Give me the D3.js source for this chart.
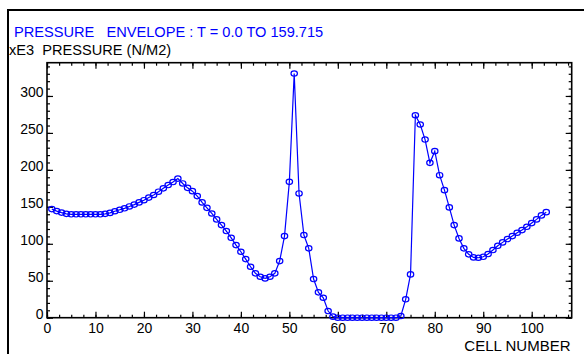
<!DOCTYPE html>
<html>
<head>
<meta charset="utf-8">
<script src="https://cdn.jsdelivr.net/npm/d3@7"></script>
<style>
  body { margin: 0; background: #fff; }
  text { font-family: "Liberation Sans", Arial, sans-serif; }
</style>
</head>
<body>
<svg id="chart" width="584" height="354"></svg>
<script>
// cell numbers along the pipe
var cells = [1,2,3,4,5,6,7,8,9,10,11,12,13,14,15,16,17,18,19,20,
  21,22,23,24,25,26,27,28,29,30,31,32,33,34,35,36,37,38,39,40,
  41,42,43,44,45,46,47,48,49,50,51,52,53,54,55,56,57,58,59,60,
  61,62,63,64,65,66,67,68,69,70,71,72,73,74,75,76,77,78,79,80,
  81,82,83,84,85,86,87,88,89,90,91,92,93,94,95,96,97,98,99,100,
  101,102,103];

// pressure envelope, xE3 N/M2
var pressure = [146.9,144.2,142.2,140.5,139.9,139.9,139.9,139.9,139.9,139.9,
  139.9,140.5,141.8,144,146,148,150.5,153,156,159,
  162.5,166,170.5,175,179.5,183.5,188.2,181.6,175.7,171.2,
  164.5,156,148.6,141,133,125.3,117.2,108.1,98.2,89.2,
  79.3,68.9,60,55.4,53.2,55.4,60,76.6,110.4,183.8,
  330.3,168.1,111.8,93.8,52.3,34.3,27,9,1.4,0,
  0,0,0,0,0,0,0,0,0,0,
  0,0,2.3,24.9,58.6,273.9,261.4,241,209.5,225.3,
  192.8,172.6,149.2,125.3,107.3,93.8,85.7,81.6,81.1,82.4,
  86.1,91.5,97.3,101.9,106.4,110.4,114.9,118.5,123,128,
  133,138.4,142.8];

var xMajor = [0,10,20,30,40,50,60,70,80,90,100];
var yMajor = [0,50,100,150,200,250,300];

var svg = d3.select("#chart");
var plot = {left: 47, right: 571.7, top: 62.7, bottom: 317.7};

var x = d3.scaleLinear().domain([0, 108.25]).range([plot.left, plot.right]);
var y = d3.scaleLinear().domain([0, 345]).range([plot.bottom, plot.top]);

var xMinor = d3.range(0, 108.25, 2.5);
var yMinor = d3.range(0, 345, 10);

/* outer frame (only the left and top edges show) */
svg.append("rect")
    .attr("x", 8).attr("y", 10)
    .attr("width", 640).attr("height", 400)
    .attr("fill", "none")
    .attr("stroke", "#000")
    .attr("stroke-width", 2);

/* titles */
svg.append("text")
    .attr("x", 14).attr("y", 37.3)
    .attr("fill", "#0000ff")
    .style("font-size", "14.6px")
    .style("white-space", "pre")
    .text("PRESSURE   ENVELOPE : T = 0.0 TO 159.715");

svg.append("text")
    .attr("x", 9).attr("y", 55)
    .attr("fill", "#000")
    .style("font-size", "14.6px")
    .style("white-space", "pre")
    .text("xE3  PRESSURE (N/M2)");

svg.append("text")
    .attr("x", 570.5).attr("y", 351)
    .attr("fill", "#000")
    .attr("text-anchor", "end")
    .style("font-size", "15px")
    .text("CELL NUMBER");

/* axes, ticks pointing inward */
function styleAxis(g, fontSize) {
  g.select(".domain").remove();
  g.selectAll("line").attr("stroke", "#000").attr("stroke-width", 1.2);
  g.selectAll("text").attr("fill", "#000")
    .style("font-family", "'Liberation Sans', Arial, sans-serif")
    .style("font-size", fontSize);
}

function addAxis(axis, tx, ty, values, size, labels) {
  var g = svg.append("g")
      .attr("transform", "translate(" + tx + "," + ty + ")")
      .call(axis.tickValues(values).tickSizeInner(-size).tickSizeOuter(0)
        .tickFormat(labels ? d3.format("d") : ""));
  styleAxis(g, "14px");
  return g;
}

// bottom
addAxis(d3.axisBottom(x), 0, plot.bottom, xMinor, 3, false);
addAxis(d3.axisBottom(x).tickPadding(5.5), 0, plot.bottom, xMajor, 6, true);
// top
addAxis(d3.axisTop(x), 0, plot.top, xMinor, 3, false);
addAxis(d3.axisTop(x), 0, plot.top, xMajor, 6, false);
// left
addAxis(d3.axisLeft(y), plot.left, 0, yMinor, 3, false);
var yl = addAxis(d3.axisLeft(y).tickPadding(3.5), plot.left, 0, yMajor, 6, true);
yl.selectAll("text").attr("dy", "1px");
// right
addAxis(d3.axisRight(y), plot.right, 0, yMinor, 3, false);
addAxis(d3.axisRight(y), plot.right, 0, yMajor, 6, false);

/* plot box */
svg.append("rect")
    .attr("x", plot.left).attr("y", plot.top)
    .attr("width", plot.right - plot.left)
    .attr("height", plot.bottom - plot.top)
    .attr("fill", "none")
    .attr("stroke", "#000")
    .attr("stroke-width", 1.6);

/* data line and markers */
var data = cells.map(function(c, i) { return {cell: c, p: pressure[i]}; });

var line = d3.line()
    .x(function(d) { return x(d.cell); })
    .y(function(d) { return y(d.p); });

svg.append("path")
    .datum(data)
    .attr("d", line)
    .attr("fill", "none")
    .attr("stroke", "#0000ff")
    .attr("stroke-width", 1.2);

svg.selectAll(".pt")
    .data(data)
    .enter().append("ellipse")
      .attr("class", "pt")
      .attr("cx", function(d) { return x(d.cell); })
      .attr("cy", function(d) { return y(d.p); })
      .attr("rx", 3.2)
      .attr("ry", 2.7)
      .attr("fill", "none")
      .attr("stroke", "#0000ff")
      .attr("stroke-width", 1.2);
</script>
</body>
</html>
